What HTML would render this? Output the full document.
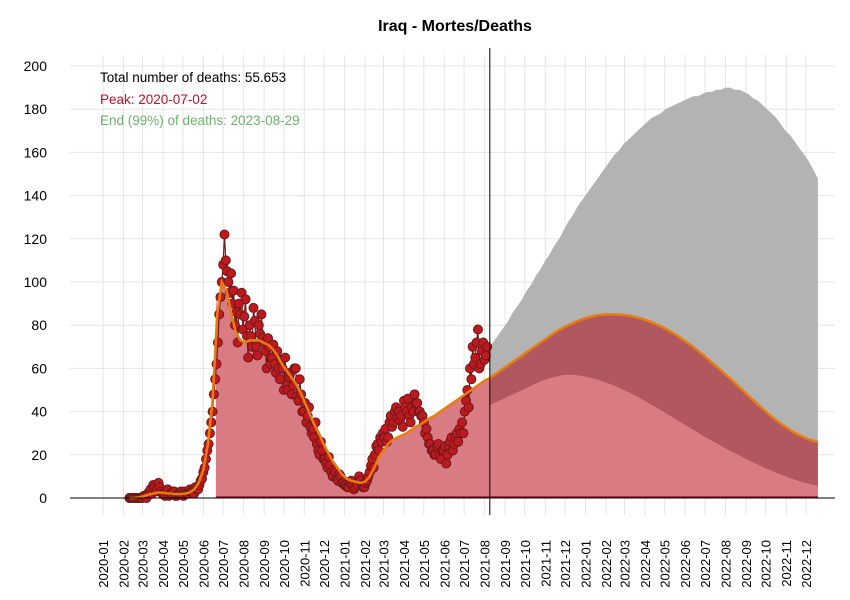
<!DOCTYPE html>
<html><head><meta charset="utf-8"><style>
body{margin:0;background:#fff;}
svg{display:block;font-family:"Liberation Sans",Arial,sans-serif;}
</style></head><body>
<svg id="chart" width="850" height="600" viewBox="0 0 850 600">
<text x="455" y="31" text-anchor="middle" font-size="16" font-weight="bold">Iraq - Mortes/Deaths</text>
<g id="grid"></g>
<g id="areas"></g>
<g id="obs"></g>
<g id="axes"></g>
<g font-size="13.5">
<text x="100" y="82" fill="#000">Total number of deaths: 55.653</text>
<text x="100" y="104" fill="#c0102a">Peak: 2020-07-02</text>
<text x="100" y="125" fill="#6db36d">End (99%) of deaths: 2023-08-29</text>
</g>
</svg>
<script>
// ---- data ----
const yTicks=[0,20,40,60,80,100,120,140,160,180,200];
const monthLabels=["2020-01","2020-02","2020-03","2020-04","2020-05","2020-06","2020-07","2020-08","2020-09","2020-10","2020-11","2020-12","2021-01","2021-02","2021-03","2021-04","2021-05","2021-06","2021-07","2021-08","2021-09","2021-10","2021-11","2021-12","2022-01","2022-02","2022-03","2022-04","2022-05","2022-06","2022-07","2022-08","2022-09","2022-10","2022-11","2022-12"];
const obsStartDay=40, obsStep=2;
const observed=[0,0,0,0,0,0,0,0,0,0,0,1,
1,0,2,3,4,2,6,5,3,4,7,5,3,2,
2,1,3,4,1,2,2,3,3,1,1,2,2,3,2,1,
3,2,2,3,4,3,3,2,5,4,4,6,8,9,
12,14,18,22,25,30,35,40,48,55,62,72,85,93,100,108,
122,110,105,100,95,104,90,96,80,86,72,90,85,95,
78,84,92,75,65,80,75,70,88,82,70,66,80,76,85,74,
72,68,60,74,70,62,65,71,62,58,68,60,55,64,60,50,
65,52,50,56,58,48,52,60,60,47,45,55,48,40,
40,44,35,38,42,33,30,32,28,35,25,22,20,26,22,18,
18,16,14,19,15,12,10,13,12,9,8,11,10,7,7,6,
6,5,5,7,8,6,4,5,7,6,10,8,6,5,
5,7,8,10,12,15,18,14,20,24,25,22,28,26,
30,28,32,26,28,35,38,33,35,40,42,37,40,36,38,33,
45,42,40,46,38,35,42,40,48,44,44,40,40,38,38,35,
30,32,28,25,25,22,22,20,20,24,25,20,18,22,
22,24,16,20,24,26,28,22,25,28,30,26,32,30,35,30,
40,45,50,42,60,55,70,62,65,72,78,60,62,68,72,64,
66,70];
const smoothStartDay=40, smoothStep=7;
const smooth=[0,0,0.3,0.8,1.5,2,2.5,2.5,2.2,2,1.8,1.8,2,2.5,4,7,13,25,45,85,100,96,86,77,73,72,73,73,73,72,71,69,66,62,59,56,53,49,44,39,34,30,25,21,17,14,11,9,8,7.5,7,7.5,10,14,19,22,25,27,28,29,30,31.5,33,34,35.5,37,38,39.5,41,42.5,44,45.5,47,48.5,50,51.5,53,54.5,55.5];
const fillStartDay=171;
const fcStartDay=586, fcStep=7;
const fcMean=[55.5,57,58.5,60,61.5,63,64.5,66,67.5,69,70.5,72,73.5,75,76.5,77.8,79,80,81,82,82.8,83.5,84,84.5,84.8,85,85,85,84.9,84.7,84.4,84,83.5,82.9,82.2,81.4,80.5,79.5,78.4,77.2,75.9,74.5,73,71.5,69.9,68.2,66.5,64.7,62.9,61,59.1,57.2,55.3,53.3,51.3,49.3,47.3,45.3,43.3,41.4,39.5,37.7,36,34.4,32.9,31.5,30.2,29.1,28.1,27.2,26.5,25.9];
const fcLower=[43,44,45,46,47,48,49,50,51,52,53,54,54.8,55.5,56,56.5,57,57,57,56.8,56.5,56,55.5,55,54.3,53.6,52.8,52,51,50,49,48,46.8,45.6,44.4,43.2,42,40.7,39.4,38.1,36.8,35.5,34.2,32.9,31.6,30.3,29,27.8,26.6,25.4,24.2,23,21.9,20.8,19.7,18.6,17.5,16.5,15.5,14.5,13.5,12.6,11.7,10.8,10,9.2,8.5,7.8,7.2,6.6,6.1,5.6];
const fcUpper=[70,73,76,79,82,86,89,92,96,99,103,106,110,113,117,120,124,128,131,135,138,141,144,147,150,153,156,159,161,164,166,168,170,172,174,176,177,178,180,181,182,183,184,185,186,186,187,188,188,189,189,190,190,189,189,188,187,185,184,182,180,178,176,173,170,168,165,162,159,156,152,148];
const vlineDay=586;
// ---- scales ----
const X0=103, PXD=703/1065;
const x=d=>X0+d*PXD;
const y=v=>498-v*2.16;
const monthDay=i=>{const dt=new Date(Date.UTC(2020,i,1));return (dt-Date.UTC(2020,0,1))/864e5;};
const NS="http://www.w3.org/2000/svg";
function mk(tag,attrs,parent){const e=document.createElementNS(NS,tag);for(const k in attrs)e.setAttribute(k,attrs[k]);parent.appendChild(e);return e;}
const grid=document.getElementById('grid'),areas=document.getElementById('areas'),obs=document.getElementById('obs'),axes=document.getElementById('axes');
yTicks.forEach(t=>{
 const l=mk('line',{x1:70,x2:835,y1:y(t),y2:y(t),stroke:'#e5e5e5','stroke-width':1},grid);
 
 
 const tx=mk('text',{x:47,y:y(t)+5,'text-anchor':'end','font-size':14,fill:'#000'},axes);
 tx.textContent=t;
 
 
});
monthLabels.forEach((m,i)=>{
 const xx=x(monthDay(i));
 const l=mk('line',{x1:xx,x2:xx,y1:55,y2:515,stroke:'#e5e5e5','stroke-width':1},grid);
 
 
 const tx=mk('text',{x:0,y:0,'text-anchor':'end','font-size':13,fill:'#000',transform:`translate(${xx+5},540) rotate(-90)`},axes);
 tx.textContent=m;
 
 
});
function area(arr,start,step,fill,name){
 let d=`M${x(start)},${y(0)}`;
 arr.forEach((v,i)=>{d+=` L${x(start+i*step)},${y(v)}`;});
 d+=` L${x(start+(arr.length-1)*step)},${y(0)} Z`;
 const p=mk('path',{d:d,fill:fill},areas);
 
 
}
area(fcUpper,fcStartDay,fcStep,'#b3b3b3','upper-band');
area(fcMean,fcStartDay,fcStep,'#b0575f','mean-forecast-area');
area(fcLower,fcStartDay,fcStep,'#d97b83','lower-band');
(function(){
 const pts=[];
 smooth.forEach((v,i)=>{const d=smoothStartDay+i*smoothStep;if(d>=fillStartDay&&d<=vlineDay)pts.push([d,v]);});
 let d=`M${x(fillStartDay)},${y(0)} L${x(fillStartDay)},${y(97)}`;
 pts.forEach(p=>d+=` L${x(p[0])},${y(p[1])}`);
 d+=` L${x(vlineDay)},${y(0)} Z`;
 const p=mk('path',{d:d,fill:'#d97b83'},areas);
 
 
})();
const base=mk('line',{x1:x(fillStartDay),x2:x(fcStartDay+(fcMean.length-1)*fcStep),y1:y(0)-1,y2:y(0)-1,stroke:'#8b1a2a','stroke-width':1.5},areas);


const op=observed.map((v,i)=>`${x(obsStartDay+i*obsStep)},${y(v)}`).join(' ');
const pl=mk('polyline',{points:op,fill:'none',stroke:'#6b1a1a','stroke-width':1.2},obs);


observed.forEach((v,i)=>{
 const c=mk('circle',{cx:x(obsStartDay+i*obsStep),cy:y(v),r:4.5,fill:'#c0181f',stroke:'#6b1a1a','stroke-width':1},obs);
 
 
});
const all=smooth.map((v,i)=>[smoothStartDay+i*smoothStep,v]).concat(fcMean.map((v,i)=>[fcStartDay+i*fcStep,v]));
const sl=mk('polyline',{points:all.map(p=>`${x(p[0])},${y(p[1])}`).join(' '),fill:'none',stroke:'#e87d0e','stroke-width':2.5},obs);


const ax=mk('line',{x1:70,x2:835,y1:y(0),y2:y(0),stroke:'#000','stroke-width':1},axes);


const vl=mk('line',{x1:x(vlineDay),x2:x(vlineDay),y1:48,y2:515,stroke:'#000','stroke-width':1},axes);


</script>
</body></html>
